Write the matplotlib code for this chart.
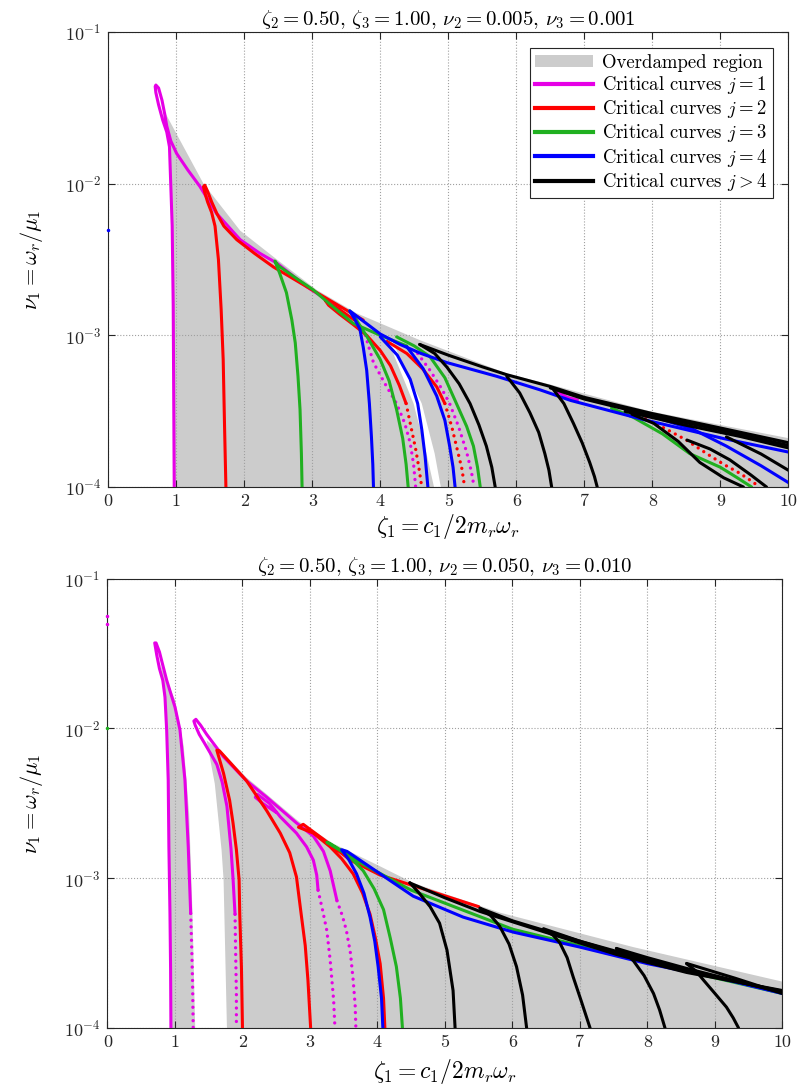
import matplotlib
matplotlib.use("Agg")
import matplotlib.pyplot as plt
from matplotlib.lines import Line2D
from matplotlib.patches import Patch

plt.rcParams['mathtext.fontset'] = 'cm'
plt.rcParams['font.family'] = 'serif'
plt.rcParams['font.serif'] = ['cmr10', 'DejaVu Serif']
plt.rcParams['axes.formatter.use_mathtext'] = True

MAG, RED, GRN, BLU, BLK, GRAY = '#e600e6', '#ff0000', '#20b020', '#0000ff', '#000000', '#cccccc'

# ---------------- top panel data (zeta2=0.50, zeta3=1.00, nu2=0.005, nu3=0.001)
top_gray_x = [0.97, 0.96, 0.94, 0.90, 0.83, 0.81, 1.05, 1.40, 1.94, 2.48, 3.06, 3.65, 4.58, 5.86, 6.53, 7.96, 10.0, 10.0]
top_gray_y = [1e-4, 1.0e-3, 5.0e-3, 1.58e-2, 2.63e-2, 3.09e-2, 1.95e-2, 1.0e-2, 4.9e-3, 3.16e-3, 2.0e-3, 1.40e-3,
              9.3e-4, 5.6e-4, 4.7e-4, 3.16e-4, 2.1e-4, 1e-4]
top_white_x = [4.12, 4.49, 4.68, 4.79, 4.89, 4.80, 4.61, 4.18]
top_white_y = [9.1e-4, 3.55e-4, 1.66e-4, 1e-4, 1e-4, 1.66e-4, 3.55e-4, 9.1e-4]

# magenta, j = 1
tm1_x = [0.97, 0.965, 0.96, 0.955, 0.94, 0.90, 0.86, 0.80, 0.74, 0.70, 0.69, 0.70, 0.74, 0.79, 0.83, 0.86, 0.92,
         1.006, 1.17, 1.35, 1.59, 1.94, 2.23, 2.48, 2.92, 3.40]
tm1_y = [1e-4, 2.51e-4, 6.31e-4, 1.58e-3, 5.25e-3, 1.75e-2, 2.19e-2, 2.63e-2, 3.31e-2, 3.98e-2, 4.37e-2, 4.47e-2,
         4.27e-2, 3.55e-2, 2.88e-2, 2.40e-2, 1.91e-2, 1.58e-2, 1.23e-2, 9.55e-3, 6.38e-3, 4.27e-3, 3.47e-3,
         2.99e-3, 2.09e-3, 1.51e-3]
tm2_x = [6.55, 6.75, 6.90]
tm2_y = [4.4e-4, 3.9e-4, 3.75e-4]
tmd1_x = [3.78, 3.90, 4.07, 4.24, 4.36, 4.44, 4.49, 4.52]
tmd1_y = [1.0e-3, 6.61e-4, 4.79e-4, 3.55e-4, 2.63e-4, 1.95e-4, 1.41e-4, 1e-4]
tmd2_x = [4.55, 4.73, 4.90, 5.02, 5.15, 5.27, 5.34, 5.38]
tmd2_y = [7.59e-4, 5.89e-4, 4.47e-4, 3.55e-4, 2.51e-4, 1.70e-4, 1.26e-4, 1e-4]

# red, j = 2
tr1_x = [1.73, 1.72, 1.71, 1.69, 1.66, 1.62, 1.57, 1.52, 1.46, 1.42, 1.40, 1.42, 1.46, 1.52, 1.60, 1.70, 1.89,
         2.15, 2.43, 2.92, 3.41, 3.75]
tr1_y = [1e-4, 1.58e-4, 2.51e-4, 6.92e-4, 1.48e-3, 3.16e-3, 5.25e-3, 6.46e-3, 7.59e-3, 8.71e-3, 9.55e-3, 9.77e-3,
         8.91e-3, 7.59e-3, 6.31e-3, 5.25e-3, 4.27e-3, 3.47e-3, 2.82e-3, 2.09e-3, 1.55e-3, 1.26e-3]
tr2_x = [3.62, 3.40, 3.22, 3.19, 3.24, 3.40, 3.60, 3.80, 4.00, 4.15, 4.28, 4.38]
tr2_y = [1.26e-3, 1.48e-3, 1.66e-3, 1.70e-3, 1.58e-3, 1.38e-3, 1.18e-3, 1.0e-3, 7.94e-4, 6.31e-4, 4.68e-4, 3.55e-4]
trd2_x = [4.38, 4.45, 4.52, 4.57, 4.61]
trd2_y = [3.55e-4, 2.51e-4, 1.78e-4, 1.32e-4, 1e-4]
tr3_x = [4.10, 4.39, 4.62, 4.83, 4.95]
tr3_y = [9.12e-4, 7.59e-4, 6.03e-4, 4.57e-4, 3.55e-4]
trd3_x = [4.95, 5.05, 5.13, 5.20, 5.24]
trd3_y = [3.55e-4, 2.51e-4, 1.78e-4, 1.32e-4, 1e-4]
trd4_x = [7.90, 8.21, 8.50, 8.80, 9.05, 9.29, 9.45, 9.58]
trd4_y = [2.82e-4, 2.40e-4, 2.04e-4, 1.66e-4, 1.41e-4, 1.23e-4, 1.10e-4, 1e-4]

# green, j = 3
tg1_x = [2.85, 2.84, 2.82, 2.79, 2.75, 2.70, 2.62, 2.52, 2.45, 2.50, 2.75, 3.01, 3.30, 3.60, 4.00, 4.39]
tg1_y = [1e-4, 1.66e-4, 3.24e-4, 5.37e-4, 8.91e-4, 1.26e-3, 1.91e-3, 2.57e-3, 3.09e-3, 2.88e-3, 2.40e-3, 2.0e-3,
         1.55e-3, 1.20e-3, 1.0e-3, 8.51e-4]
tg2_x = [3.55, 3.65, 3.82, 4.00, 4.13, 4.24, 4.33, 4.38, 4.41]
tg2_y = [1.45e-3, 1.26e-3, 9.55e-4, 6.92e-4, 5.01e-4, 3.24e-4, 2.09e-4, 1.41e-4, 1e-4]
tg3_x = [4.24, 4.50, 4.73, 4.95, 5.12, 5.27, 5.37, 5.43, 5.47]
tg3_y = [9.77e-4, 8.51e-4, 7.24e-4, 5.25e-4, 3.55e-4, 2.51e-4, 1.86e-4, 1.35e-4, 1e-4]
tg4_x = [7.40, 7.72, 8.15, 8.55, 9.00, 9.25, 9.46]
tg4_y = [3.31e-4, 2.88e-4, 2.24e-4, 1.66e-4, 1.35e-4, 1.15e-4, 1e-4]

# blue, j = 4
tb1_x = [3.90, 3.89, 3.87, 3.84, 3.80, 3.75, 3.70, 3.62, 3.55, 3.70, 4.00, 4.29, 4.60, 4.98, 5.71, 6.35, 6.80,
         7.82, 9.04, 10.0]
tb1_y = [1e-4, 1.41e-4, 2.14e-4, 3.55e-4, 5.89e-4, 8.32e-4, 1.10e-3, 1.29e-3, 1.45e-3, 1.29e-3, 1.02e-3, 8.71e-4,
         7.59e-4, 6.61e-4, 5.37e-4, 4.37e-4, 3.72e-4, 2.82e-4, 2.09e-4, 1.70e-4]
tb2_x = [4.00, 4.25, 4.44, 4.55, 4.61, 4.66, 4.70]
tb2_y = [9.77e-4, 7.41e-4, 5.13e-4, 3.55e-4, 2.40e-4, 1.58e-4, 1e-4]
tb3_x = [4.39, 4.63, 4.83, 4.95, 5.02, 5.07, 5.10]
tb3_y = [8.41e-4, 6.03e-4, 3.98e-4, 2.75e-4, 1.86e-4, 1.35e-4, 1e-4]
tb4_x = [7.97, 8.60, 9.09, 9.60, 10.0]
tb4_y = [2.95e-4, 2.40e-4, 1.86e-4, 1.38e-4, 1.07e-4]

# black, j > 4
tk1_x = [4.58, 4.80, 4.98, 5.16, 5.32, 5.45, 5.56, 5.64, 5.69]
tk1_y = [8.71e-4, 7.59e-4, 6.17e-4, 4.79e-4, 3.55e-4, 2.57e-4, 1.86e-4, 1.35e-4, 1e-4]
tk_env1_x = [4.58, 5.00, 5.50, 5.86, 6.50, 7.00, 8.00, 9.00, 10.0]
tk_env1_y = [8.7e-4, 7.4e-4, 6.2e-4, 5.5e-4, 4.6e-4, 3.9e-4, 3.05e-4, 2.45e-4, 1.96e-4]
tk_env2_x = [6.50, 7.00, 8.00, 9.00, 10.0]
tk_env2_y = [4.5e-4, 3.8e-4, 2.95e-4, 2.38e-4, 1.88e-4]
tk_env3_x = [7.60, 8.50, 9.30, 10.0]
tk_env3_y = [3.15e-4, 2.55e-4, 2.15e-4, 1.81e-4]
tk2_x = [5.86, 6.05, 6.20, 6.33, 6.42, 6.48, 6.52]
tk2_y = [5.37e-4, 4.17e-4, 3.09e-4, 2.29e-4, 1.66e-4, 1.29e-4, 1e-4]
tk3_x = [6.55, 6.70, 6.84, 6.97, 7.08, 7.15, 7.19]
tk3_y = [4.37e-4, 3.55e-4, 2.63e-4, 1.95e-4, 1.45e-4, 1.17e-4, 1e-4]
tk4_x = [7.70, 8.02, 8.38, 8.70, 9.05, 9.34]
tk4_y = [3.02e-4, 2.63e-4, 2.0e-4, 1.45e-4, 1.15e-4, 1e-4]
tk5_x = [8.51, 8.85, 9.14, 9.45, 9.68]
tk5_y = [2.04e-4, 1.78e-4, 1.51e-4, 1.20e-4, 1e-4]
tk6_x = [9.09, 9.60, 10.0]
tk6_y = [2.14e-4, 1.65e-4, 1.29e-4]

# ---------------- bottom panel data (zeta2=0.50, zeta3=1.00, nu2=0.050, nu3=0.010)
bot_gray1_x = [0.94, 0.91, 0.88, 0.80, 0.78, 0.86, 1.00, 1.13, 1.21, 1.26, 1.30]
bot_gray1_y = [1e-4, 1.62e-3, 9.8e-3, 2.45e-2, 2.7e-2, 2.2e-2, 1.55e-2, 7.6e-3, 2.7e-3, 5.75e-4, 1e-4]
bot_gray2_x = [1.77, 1.72, 1.69, 1.59, 1.47, 1.72, 2.06, 2.36, 2.83, 3.35, 4.04, 4.53, 5.81, 7.79, 10.0, 10.0]
bot_gray2_y = [1e-4, 9.8e-4, 1.55e-3, 4.27e-3, 8.3e-3, 6.8e-3, 4.7e-3, 3.63e-3, 2.4e-3, 1.7e-3, 1.2e-3, 9.3e-4,
               5.9e-4, 3.47e-4, 2.04e-4, 1e-4]

bm1_x = [0.94, 0.935, 0.926, 0.91, 0.90, 0.877, 0.852, 0.82, 0.77, 0.73, 0.70, 0.72, 0.77, 0.81, 0.877, 1.0,
         1.074, 1.148, 1.197, 1.233]
bm1_y = [1e-4, 2.51e-4, 5.82e-4, 1.62e-3, 4.52e-3, 9.77e-3, 1.62e-2, 2.09e-2, 2.51e-2, 3.09e-2, 3.72e-2, 3.72e-2,
         3.24e-2, 2.75e-2, 2.10e-2, 1.39e-2, 9.77e-3, 4.52e-3, 1.62e-3, 5.82e-4]
bmd1_x = [1.233, 1.25, 1.26, 1.27]
bmd1_y = [5.82e-4, 3.2e-4, 2.09e-4, 1e-4]
bm2_x = [1.89, 1.86, 1.83, 1.77, 1.70, 1.62, 1.53, 1.44, 1.36, 1.30, 1.28, 1.31, 1.38, 1.47, 1.57, 1.72, 2.06,
         2.36, 2.80, 3.05, 3.20, 3.30, 3.40]
bm2_y = [5.75e-4, 1.0e-3, 1.58e-3, 3.02e-3, 4.37e-3, 5.75e-3, 6.76e-3, 7.94e-3, 9.12e-3, 1.05e-2, 1.12e-2, 1.15e-2,
         1.05e-2, 9.12e-3, 7.94e-3, 6.46e-3, 4.47e-3, 3.47e-3, 2.34e-3, 1.91e-3, 1.51e-3, 1.12e-3, 7.08e-4]
bmd2a_x = [1.89, 1.90, 1.91, 1.91]
bmd2a_y = [5.75e-4, 3.0e-4, 1.7e-4, 1e-4]
bmd2b_x = [3.40, 3.48, 3.54, 3.60, 3.64, 3.67, 3.68]
bmd2b_y = [7.08e-4, 5.62e-4, 4.47e-4, 3.16e-4, 2.09e-4, 1.41e-4, 1e-4]
bm3_x = [2.50, 2.30, 2.19, 2.22, 2.40, 2.56, 2.80, 2.95, 3.05, 3.10, 3.12]
bm3_y = [2.75e-3, 3.16e-3, 3.47e-3, 3.63e-3, 3.16e-3, 2.57e-3, 2.0e-3, 1.62e-3, 1.32e-3, 1.05e-3, 8.32e-4]
bmd3_x = [3.12, 3.19, 3.25, 3.30, 3.35, 3.37]
bmd3_y = [8.32e-4, 6.03e-4, 4.47e-4, 2.82e-4, 1.55e-4, 1e-4]

br1_x = [2.00, 1.985, 1.96, 1.95, 1.91, 1.86, 1.81, 1.72, 1.62, 1.66, 1.80, 2.06, 2.36, 2.56, 2.70, 2.80, 2.87,
         2.93, 2.97, 3.01]
br1_y = [1e-4, 2.51e-4, 5.75e-4, 9.77e-4, 1.55e-3, 2.34e-3, 3.31e-3, 5.01e-3, 7.16e-3, 7.08e-3, 6.03e-3, 4.47e-3,
         2.82e-3, 2.0e-3, 1.48e-3, 1.02e-3, 5.75e-4, 3.55e-4, 2.09e-4, 1e-4]
br2_x = [4.11, 4.09, 4.04, 3.97, 3.89, 3.78, 3.64, 3.47, 3.30, 3.05, 2.83, 2.90, 3.20, 3.60, 4.04, 4.60, 5.50]
br2_y = [1e-4, 1.58e-4, 2.69e-4, 3.98e-4, 5.75e-4, 7.94e-4, 1.07e-3, 1.35e-3, 1.62e-3, 2.0e-3, 2.19e-3, 2.29e-3,
         1.82e-3, 1.32e-3, 1.05e-3, 8.71e-4, 6.46e-4]

bg1_x = [4.37, 4.34, 4.28, 4.19, 4.09, 3.95, 3.79, 3.55, 3.30, 3.25, 3.40, 3.80, 4.50, 6.00, 8.00, 10.0]
bg1_y = [1e-4, 1.58e-4, 2.57e-4, 3.98e-4, 6.17e-4, 8.51e-4, 1.12e-3, 1.45e-3, 1.70e-3, 1.74e-3, 1.58e-3, 1.23e-3,
         8.32e-4, 4.57e-4, 2.75e-4, 1.70e-4]

bb1_x = [4.08, 4.06, 4.01, 3.96, 3.89, 3.80, 3.69, 3.58, 3.47, 3.55, 4.04, 4.53, 5.27, 6.01, 7.00, 8.00, 9.00, 10.0]
bb1_y = [1e-4, 1.58e-4, 2.57e-4, 3.80e-4, 5.50e-4, 7.94e-4, 1.07e-3, 1.32e-3, 1.55e-3, 1.51e-3, 1.07e-3, 7.59e-4,
         5.50e-4, 4.37e-4, 3.47e-4, 2.69e-4, 2.19e-4, 1.70e-4]

bk1_x = [5.15, 5.12, 5.03, 4.92, 4.78, 4.62, 4.48]
bk1_y = [1e-4, 1.78e-4, 3.31e-4, 5.01e-4, 6.46e-4, 7.94e-4, 9.33e-4]
bk2_x = [5.52, 5.68, 5.81, 5.95, 6.06, 6.15, 6.21]
bk2_y = [6.31e-4, 5.62e-4, 4.79e-4, 3.63e-4, 2.57e-4, 1.66e-4, 1e-4]
bk3_x = [6.46, 6.60, 6.70, 6.81, 6.90, 7.02, 7.15]
bk3_y = [4.57e-4, 4.17e-4, 3.72e-4, 2.95e-4, 2.19e-4, 1.51e-4, 1e-4]
bk4_x = [7.54, 7.68, 7.79, 7.95, 8.09, 8.18, 8.26]
bk4_y = [3.39e-4, 3.16e-4, 2.82e-4, 2.24e-4, 1.70e-4, 1.32e-4, 1e-4]
bk5_x = [8.58, 8.72, 8.83, 9.00, 9.17, 9.27, 9.35]
bk5_y = [2.69e-4, 2.40e-4, 2.09e-4, 1.70e-4, 1.38e-4, 1.17e-4, 1e-4]
bke1_x = [4.48, 5.00, 5.52, 6.46, 7.54, 8.58, 10.0]
bke1_y = [9.3e-4, 7.4e-4, 6.0e-4, 4.4e-4, 3.1e-4, 2.35e-4, 1.78e-4]
bke2_x = [5.52, 6.00, 6.46, 7.54, 8.58, 10.0]
bke2_y = [6.3e-4, 5.2e-4, 4.5e-4, 3.2e-4, 2.4e-4, 1.76e-4]
bke3_x = [6.46, 7.00, 7.54, 8.58, 10.0]
bke3_y = [4.6e-4, 3.8e-4, 3.25e-4, 2.45e-4, 1.74e-4]
bke4_x = [7.54, 8.00, 8.58, 10.0]
bke4_y = [3.4e-4, 2.95e-4, 2.5e-4, 1.72e-4]
bke5_x = [8.58, 9.30, 10.0]
bke5_y = [2.7e-4, 2.15e-4, 1.70e-4]

x_ticks = list(range(0, 11))
titles = [r'$\zeta_2 =$0.50, $\zeta_3 =$1.00, $\nu_2 =$0.005, $\nu_3 =$0.001',
          r'$\zeta_2 =$0.50, $\zeta_3 =$1.00, $\nu_2 =$0.050, $\nu_3 =$0.010']
legend_labels = ['Overdamped region', r'Critical curves $j = 1$', r'Critical curves $j = 2$',
                 r'Critical curves $j = 3$', r'Critical curves $j = 4$', r'Critical curves $j > 4$']

LW = 2.2


def solid(ax, x, y, c, lw=LW):
    ax.plot(x, y, color=c, lw=lw, solid_capstyle='round', solid_joinstyle='round', zorder=3)


def dotted(ax, x, y, c):
    ax.plot(x, y, color=c, lw=2.4, linestyle=(0, (0.01, 2.0)), dash_capstyle='round', zorder=3)


def style_axes(ax, title, xpad):
    ax.set_yscale('log')
    ax.set_xlim(0, 10)
    ax.set_ylim(1e-4, 1e-1)
    ax.set_xticks(x_ticks)
    ax.set_xticklabels([str(t) for t in x_ticks])
    ax.set_yticks([1e-4, 1e-3, 1e-2, 1e-1])
    ax.minorticks_off()
    ax.yaxis.set_minor_locator(plt.NullLocator())
    ax.grid(True, which='major', linestyle=':', color='#a0a0a0', linewidth=0.8)
    ax.tick_params(direction='in', top=True, right=True, length=5, labelsize=13, colors='#262626', pad=5)
    for s in ax.spines.values():
        s.set_color('#262626')
        s.set_linewidth(0.8)
    ax.set_title(title, fontsize=15, pad=5)
    ax.set_xlabel(r'$\zeta_1 = c_1/2m_r\omega_r$', fontsize=17, labelpad=xpad)
    ax.set_ylabel(r'$\nu_1 = \omega_r/\mu_1$', fontsize=16, labelpad=14)


fig = plt.figure(figsize=(7.99, 10.88), dpi=100)
ax1 = fig.add_axes([0.1355, 0.5524, 0.8511, 0.4182])
ax2 = fig.add_axes([0.1345, 0.0551, 0.8448, 0.4131])

# top panel
ax1.fill(top_gray_x, top_gray_y, color=GRAY, lw=0, zorder=1)
ax1.fill(top_white_x, top_white_y, color='white', lw=0, zorder=1)
solid(ax1, tm1_x, tm1_y, MAG)
solid(ax1, tm2_x, tm2_y, MAG)
dotted(ax1, tmd1_x, tmd1_y, MAG)
dotted(ax1, tmd2_x, tmd2_y, MAG)
solid(ax1, tr1_x, tr1_y, RED)
solid(ax1, tr2_x, tr2_y, RED)
dotted(ax1, trd2_x, trd2_y, RED)
solid(ax1, tr3_x, tr3_y, RED)
dotted(ax1, trd3_x, trd3_y, RED)
dotted(ax1, trd4_x, trd4_y, RED)
for gx, gy in [(tg1_x, tg1_y), (tg2_x, tg2_y), (tg3_x, tg3_y), (tg4_x, tg4_y)]:
    solid(ax1, gx, gy, GRN)
for bx, by in [(tb1_x, tb1_y), (tb2_x, tb2_y), (tb3_x, tb3_y), (tb4_x, tb4_y)]:
    solid(ax1, bx, by, BLU)
for kx, ky in [(tk1_x, tk1_y), (tk_env1_x, tk_env1_y), (tk_env2_x, tk_env2_y), (tk_env3_x, tk_env3_y),
               (tk2_x, tk2_y), (tk3_x, tk3_y), (tk4_x, tk4_y), (tk5_x, tk5_y), (tk6_x, tk6_y)]:
    solid(ax1, kx, ky, BLK)
ax1.plot([0.0], [4.95e-3], marker='.', color=BLU, ms=3, clip_on=False, zorder=4)
style_axes(ax1, titles[0], 2)

handles = [Patch(facecolor=GRAY, edgecolor='none')] + \
          [Line2D([0], [0], color=c, lw=3) for c in [MAG, RED, GRN, BLU, BLK]]
leg = ax1.legend(handles, legend_labels, loc='upper right', bbox_to_anchor=(0.977, 0.965), borderaxespad=0,
                 fontsize=13.5, handlelength=3.1, handleheight=0.6, labelspacing=0.12, fancybox=False,
                 framealpha=1, edgecolor='#262626', borderpad=0.3, handletextpad=0.45)
leg.get_frame().set_linewidth(0.8)

# bottom panel
ax2.fill(bot_gray1_x, bot_gray1_y, color=GRAY, lw=0, zorder=1)
ax2.fill(bot_gray2_x, bot_gray2_y, color=GRAY, lw=0, zorder=1)
solid(ax2, bm1_x, bm1_y, MAG)
dotted(ax2, bmd1_x, bmd1_y, MAG)
solid(ax2, bm2_x, bm2_y, MAG)
dotted(ax2, bmd2a_x, bmd2a_y, MAG)
dotted(ax2, bmd2b_x, bmd2b_y, MAG)
solid(ax2, bm3_x, bm3_y, MAG)
dotted(ax2, bmd3_x, bmd3_y, MAG)
solid(ax2, br1_x, br1_y, RED)
solid(ax2, br2_x, br2_y, RED)
solid(ax2, bg1_x, bg1_y, GRN)
solid(ax2, bb1_x, bb1_y, BLU)
for kx, ky in [(bk1_x, bk1_y), (bk2_x, bk2_y), (bk3_x, bk3_y), (bk4_x, bk4_y), (bk5_x, bk5_y),
               (bke1_x, bke1_y), (bke2_x, bke2_y), (bke3_x, bke3_y), (bke4_x, bke4_y), (bke5_x, bke5_y)]:
    solid(ax2, kx, ky, BLK)
ax2.plot([0.0, 0.0], [5.6e-2, 5.0e-2], marker='.', color=MAG, ms=3, lw=0, clip_on=False, zorder=4)
ax2.plot([0.0], [1e-2], marker='.', color=GRN, ms=3, clip_on=False, zorder=4)
style_axes(ax2, titles[1], 5)

fig.savefig('out.png', dpi=100)
